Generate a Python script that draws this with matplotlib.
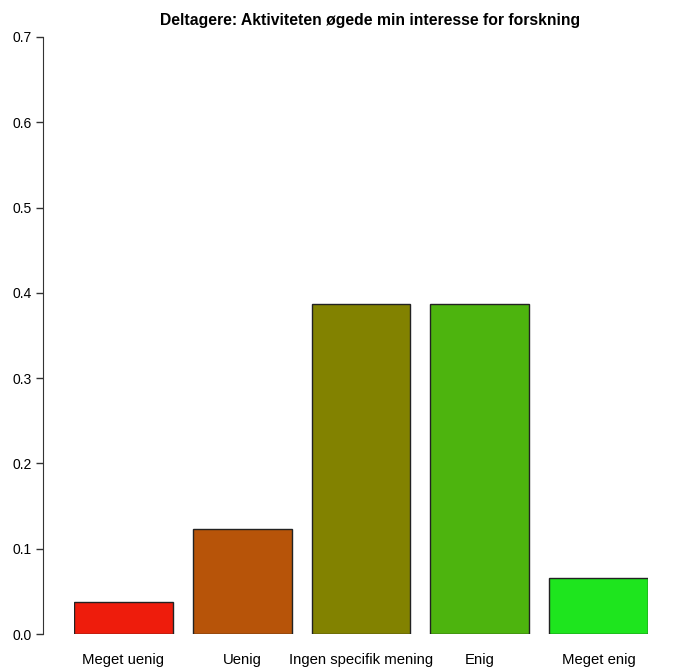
import numpy as np
import matplotlib
matplotlib.use("Agg")
import matplotlib.pyplot as plt

plt.rcParams['font.family'] = ['Liberation Sans', 'DejaVu Sans']

# answer shares
categories = ['Meget uenig', 'Uenig', 'Ingen specifik mening', 'Enig', 'Meget enig']
shares = [0.037, 0.123, 0.387, 0.387, 0.066]
colors = ['#EE1C0C', '#B75409', '#828200', '#4DB40E', '#1EE51E']
yticks = [0.0, 0.1, 0.2, 0.3, 0.4, 0.5, 0.6, 0.7]

W, H = 675, 670
fig = plt.figure(figsize=(W / 100, H / 100), dpi=100)
# plot region in pixels: x 74..648, y 37..634 (from top)
ax = fig.add_axes([74 / W, (H - 634) / H, (648 - 74) / W, (634 - 37) / H])

# R barplot layout: width 1, space 0.2
lefts = 0.2 + 1.2 * np.arange(len(shares))
centers = lefts + 0.5
ax.bar(centers, shares, width=1.0, color=colors, edgecolor='#222222', linewidth=1.0)

ax.set_xlim(0.2, 6.0)
ax.set_ylim(0, 0.7)

ax.spines['top'].set_visible(False)
ax.spines['right'].set_visible(False)
ax.spines['bottom'].set_visible(False)
# offsets are in points (0.72 pt per px at 100 dpi)
ax.spines['left'].set_position(('outward', 31 * 0.72))
ax.spines['left'].set_bounds(0, 0.7)
ax.spines['left'].set_color('#333333')

ax.set_yticks(yticks)
ax.set_yticklabels(['%.1f' % v for v in yticks])
ax.tick_params(axis='y', length=5, width=1, color='#333333', labelsize=10, pad=3)

ax.set_xticks(centers)
ax.set_xticklabels(categories)
ax.tick_params(axis='x', length=0, labelsize=10.7, pad=14)

fig.text(370 / W, 1 - 20 / H, 'Deltagere: Aktiviteten øgede min interesse for forskning',
         ha='center', va='center', fontsize=11.3, fontweight='bold')

fig.savefig('out.png', dpi=100)
